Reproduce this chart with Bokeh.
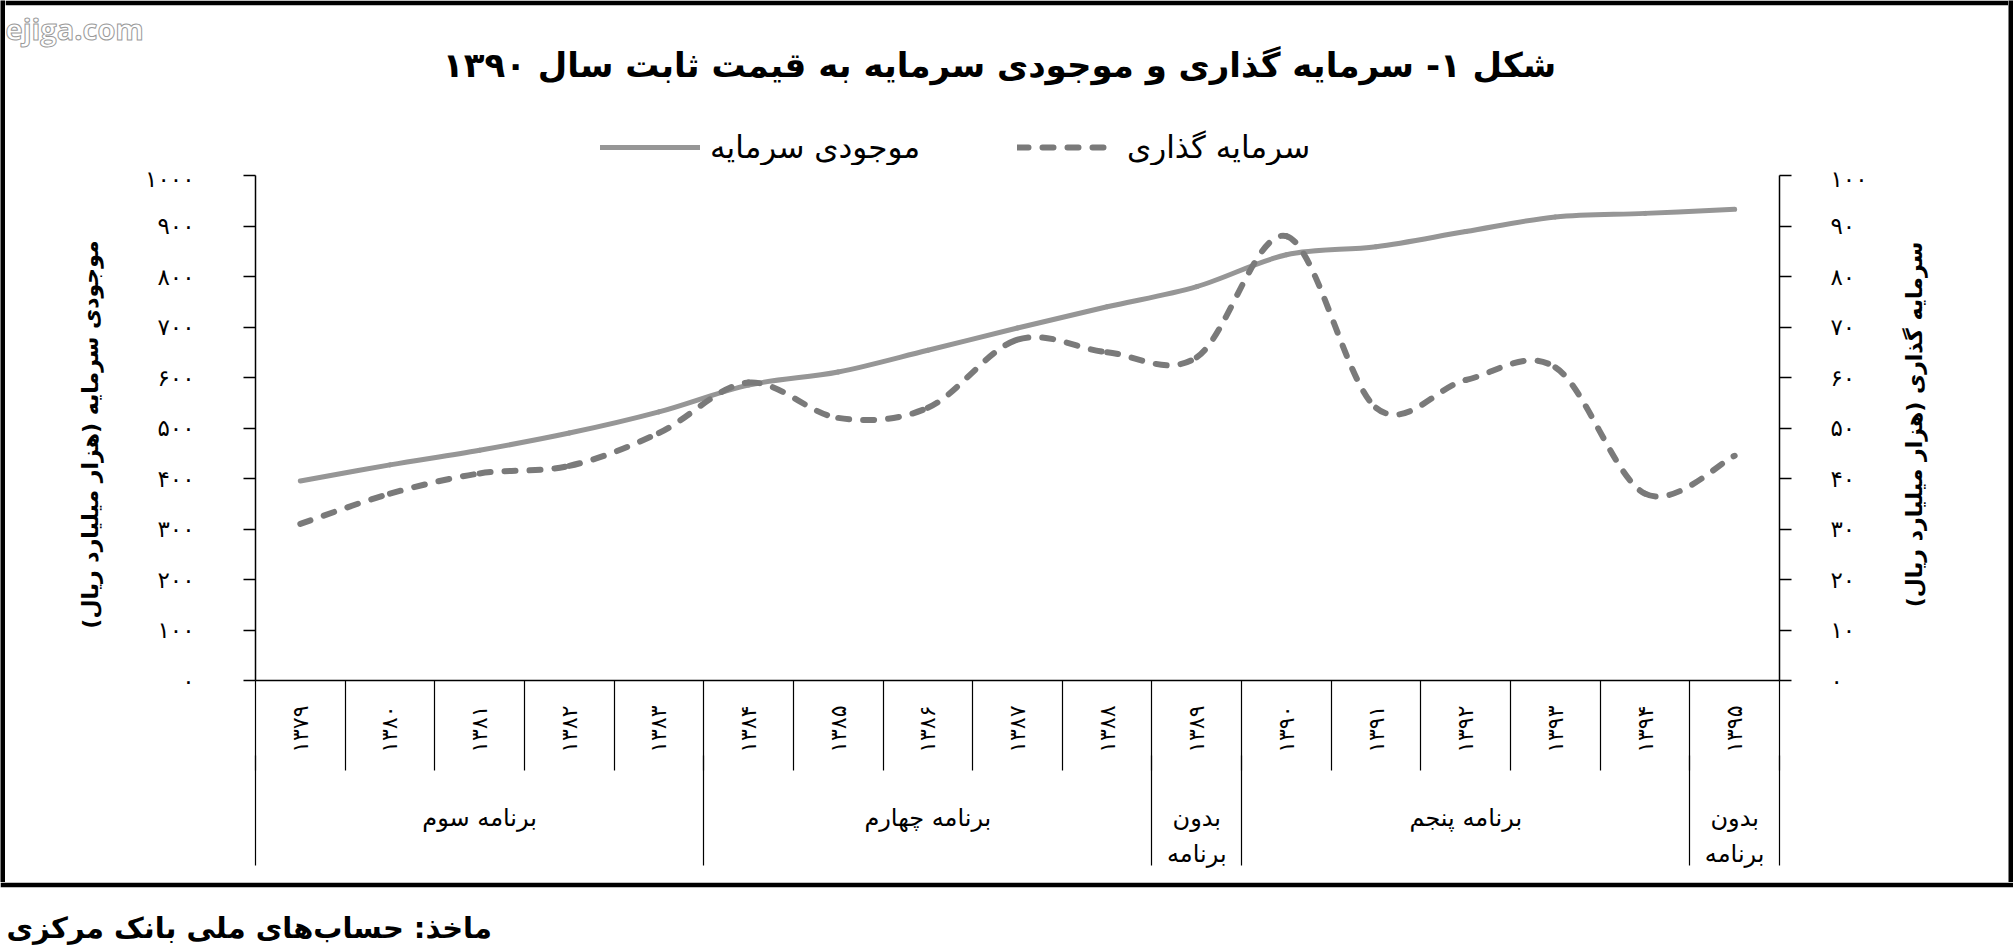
import math
from bokeh.plotting import figure
from bokeh.layouts import column, row
from bokeh.models import (Range1d, LinearAxis, FixedTicker, Label, Legend, LegendItem,
                          ColumnDataSource, Plot)
from bokeh.embed import file_html
from bokeh.resources import INLINE

# ---------------- data ----------------
years = ["۱۳۷۹", "۱۳۸۰", "۱۳۸۱", "۱۳۸۲", "۱۳۸۳", "۱۳۸۴", "۱۳۸۵", "۱۳۸۶", "۱۳۸۷",
         "۱۳۸۸", "۱۳۸۹", "۱۳۹۰", "۱۳۹۱", "۱۳۹۲", "۱۳۹۳", "۱۳۹۴", "۱۳۹۵"]
capital_stock = [395, 427, 456, 490, 532, 585, 611, 654, 698, 740, 780, 843, 859, 889, 918, 925, 933]
investment = [31, 37, 41, 42.5, 49, 59, 52, 54, 67.5, 65, 64, 88, 54, 59.5, 62, 37, 44.5]
plans = ["برنامه سوم", "برنامه چهارم", "بدون\nبرنامه", "برنامه پنجم", "بدون\nبرنامه"]
plan_sizes = [5, 5, 1, 5, 1]
left_ticks = [0, 100, 200, 300, 400, 500, 600, 700, 800, 900, 1000]
left_tick_labels = ["۰", "۱۰۰", "۲۰۰", "۳۰۰", "۴۰۰", "۵۰۰", "۶۰۰", "۷۰۰", "۸۰۰", "۹۰۰", "۱۰۰۰"]
right_ticks = [0, 10, 20, 30, 40, 50, 60, 70, 80, 90, 100]
right_tick_labels = ["۰", "۱۰", "۲۰", "۳۰", "۴۰", "۵۰", "۶۰", "۷۰", "۸۰", "۹۰", "۱۰۰"]

title_text = "شکل ۱- سرمایه گذاری و موجودی سرمایه به قیمت ثابت سال ۱۳۹۰"
stock_name = "موجودی سرمایه"
inv_name = "سرمایه گذاری"
left_title = "موجودی سرمایه (هزار میلیارد ریال)"
right_title = "سرمایه گذاری (هزار میلیارد ریال)"
source_text = "ماخذ: حساب‌های ملی بانک مرکزی"
watermark = "ejiga.com"

FONT = "DejaVu Sans"
STOCK_COLOR = "#969696"
INV_COLOR = "#7a7a7a"

n = len(years)
xc = [i + 0.5 for i in range(n)]          # category centres
bounds = list(range(n + 1))                # category boundaries
gb = [0]
for s in plan_sizes:
    gb.append(gb[-1] + s)
gcent = [(gb[i] + gb[i + 1]) / 2 for i in range(len(plan_sizes))]

HAS_FRAME_ALIGN = "frame_align" in Plot.properties()


def smooth_segments(xs, ys):
    """Excel-style smoothed line: cubic bezier segments through the data points."""
    m = len(xs)
    d = dict(x0=[], y0=[], x1=[], y1=[], cx0=[], cy0=[], cx1=[], cy1=[])
    for i in range(m - 1):
        i0 = max(i - 1, 0)
        i3 = min(i + 2, m - 1)
        d["x0"].append(xs[i]); d["y0"].append(ys[i])
        d["x1"].append(xs[i + 1]); d["y1"].append(ys[i + 1])
        d["cx0"].append(xs[i] + (xs[i + 1] - xs[i0]) / 6)
        d["cy0"].append(ys[i] + (ys[i + 1] - ys[i0]) / 6)
        d["cx1"].append(xs[i + 1] - (xs[i3] - xs[i]) / 6)
        d["cy1"].append(ys[i + 1] - (ys[i3] - ys[i]) / 6)
    return ColumnDataSource(d)


def no_align(f):
    if HAS_FRAME_ALIGN:
        f.frame_align = False
    return f


def blank(w, h, fill="white", strip=0):
    """Axis-less panel; an optional black strip along its top edge (outer frame)."""
    f = figure(width=w, height=h, x_range=Range1d(0, w), y_range=Range1d(h - strip, 0),
               x_axis_type=None, y_axis_type=None, output_backend="svg",
               toolbar_location=None, min_border=0, min_border_top=strip)
    f.outline_line_color = None
    f.background_fill_color = fill
    f.border_fill_color = "black" if strip else fill
    return no_align(f)


# ---------------- outer frame (left / right bars) ----------------
BW = 5
FRAME_H = 882
left_bar = blank(BW, FRAME_H, "black")
right_bar = blank(BW, FRAME_H, "black")

# ---------------- top area: watermark, title, legend ----------------
TOP_H = 165
top_fig = blank(2003, TOP_H, strip=BW)
top_fig.extra_y_ranges = {"hidden": Range1d(5000, 6000)}
wm_kw = dict(x=0, y=23, text=watermark, text_align="left", text_baseline="middle",
             text_font="Open Sans", text_font_style="bold", text_font_size="29px",
             text_color="white")
if "text_outline_color" in Label.properties():
    wm_kw["text_outline_color"] = "#9a9a9a"
else:
    wm_kw["text_color"] = "#c8c8c8"
top_fig.add_layout(Label(**wm_kw))
top_fig.add_layout(Label(x=994, y=59, text=title_text, text_align="center",
                         text_baseline="middle", text_font=FONT, text_font_style="bold",
                         text_font_size="34px", text_color="black"))

# legend proxies (same series, drawn on a range that keeps them out of view)
d1 = top_fig.line(x=xc, y=capital_stock, y_range_name="hidden", line_color=STOCK_COLOR,
                  line_width=5, line_cap="round")
d2 = top_fig.line(x=xc, y=investment, y_range_name="hidden", line_color=INV_COLOR,
                  line_width=6, line_dash="11 14", line_cap="round")
legend = Legend(items=[LegendItem(label=stock_name, renderers=[d1]),
                       LegendItem(label=inv_name, renderers=[d2])],
                orientation="horizontal", location=(595, 0), glyph_width=100, glyph_height=26,
                label_standoff=10, label_width=227, spacing=80, padding=0, margin=0,
                border_line_color=None, background_fill_alpha=0,
                label_text_font=FONT, label_text_font_size="31px", label_text_color="black")
top_fig.add_layout(legend, "center")

# ---------------- side titles ----------------
PH = FRAME_H - TOP_H   # 717
left_fig = blank(115, PH)
left_fig.add_layout(Label(x=85, y=269, text=left_title, angle=math.pi / 2,
                          text_align="center", text_baseline="middle", text_font=FONT,
                          text_font_style="bold", text_font_size="22px", text_color="black"))
right_fig = blank(123, PH)
right_fig.add_layout(Label(x=29, y=259, text=right_title, angle=math.pi / 2,
                           text_align="center", text_baseline="middle", text_font=FONT,
                           text_font_style="bold", text_font_size="22px", text_color="black"))

# ---------------- main chart ----------------
p = figure(width=1765, height=PH, x_range=Range1d(0, n), y_range=Range1d(0, 1000),
           x_axis_type=None, y_axis_type=None, output_backend="svg", toolbar_location=None,
           min_border_left=135, min_border_right=106, min_border_top=10, min_border_bottom=202)
no_align(p)
p.extra_y_ranges = {"inv": Range1d(0, 100)}
p.outline_line_color = None
p.background_fill_color = "white"
p.border_fill_color = "white"

ly = LinearAxis(ticker=FixedTicker(ticks=left_ticks),
                major_label_overrides=dict(zip(left_ticks, left_tick_labels)),
                major_tick_out=12, major_tick_in=0, minor_tick_out=0, minor_tick_in=0,
                major_label_standoff=49, axis_line_color="black", axis_line_width=1.5,
                major_tick_line_width=1.5, major_tick_line_color="black",
                major_label_text_font=FONT, major_label_text_font_size="23px",
                major_label_text_color="black")
p.add_layout(ly, "left")

ry = LinearAxis(y_range_name="inv", ticker=FixedTicker(ticks=right_ticks),
                major_label_overrides=dict(zip(right_ticks, right_tick_labels)),
                major_tick_out=12, major_tick_in=0, minor_tick_out=0, minor_tick_in=0,
                major_label_standoff=39, axis_line_color="black", axis_line_width=1.5,
                major_tick_line_width=1.5, major_tick_line_color="black",
                major_label_text_font=FONT, major_label_text_font_size="23px",
                major_label_text_color="black")
p.add_layout(ry, "right")

ax_years = LinearAxis(ticker=FixedTicker(ticks=xc, minor_ticks=bounds),
                      major_label_overrides=dict(zip(xc, years)),
                      major_tick_out=0, major_tick_in=0, minor_tick_out=90, minor_tick_in=0,
                      minor_tick_line_color="black", minor_tick_line_width=1.2,
                      major_label_orientation=math.pi / 2, major_label_standoff=-65,
                      axis_line_color="black", axis_line_width=1.5,
                      major_label_text_font=FONT, major_label_text_font_size="22px",
                      major_label_text_color="black")
p.add_layout(ax_years, "below")

ax_plans = LinearAxis(ticker=FixedTicker(ticks=gcent, minor_ticks=gb),
                      major_label_overrides=dict(zip(gcent, plans)),
                      major_tick_out=0, major_tick_in=0, minor_tick_out=110, minor_tick_in=0,
                      minor_tick_line_color="black", minor_tick_line_width=1.2,
                      major_label_standoff=-62, axis_line_color=None,
                      major_label_text_font=FONT, major_label_text_font_size="24px",
                      major_label_text_color="black", major_label_text_line_height=1.32)
p.add_layout(ax_plans, "below")

p.bezier(source=smooth_segments(xc, capital_stock), x0="x0", y0="y0", x1="x1", y1="y1",
         cx0="cx0", cy0="cy0", cx1="cx1", cy1="cy1",
         line_color=STOCK_COLOR, line_width=5, line_cap="round")
p.bezier(source=smooth_segments(xc, investment), x0="x0", y0="y0", x1="x1", y1="y1",
         cx0="cx0", cy0="cy0", cx1="cx1", cy1="cy1", y_range_name="inv",
         line_color=INV_COLOR, line_width=6, line_dash="11 14", line_cap="round")

# ---------------- source line (its top strip is the frame's bottom edge) ----------------
source_fig = blank(2013, 65, strip=BW)
source_fig.add_layout(Label(x=6, y=40, text=source_text, text_align="left",
                            text_baseline="middle", text_font=FONT, text_font_style="bold",
                            text_font_size="29px", text_color="black"))

inner = column(top_fig, row(left_fig, p, right_fig, spacing=0), spacing=0)
layout = column(row(left_bar, inner, right_bar, spacing=0), source_fig, spacing=0)

open("out.html", "w").write(file_html(layout, INLINE))
